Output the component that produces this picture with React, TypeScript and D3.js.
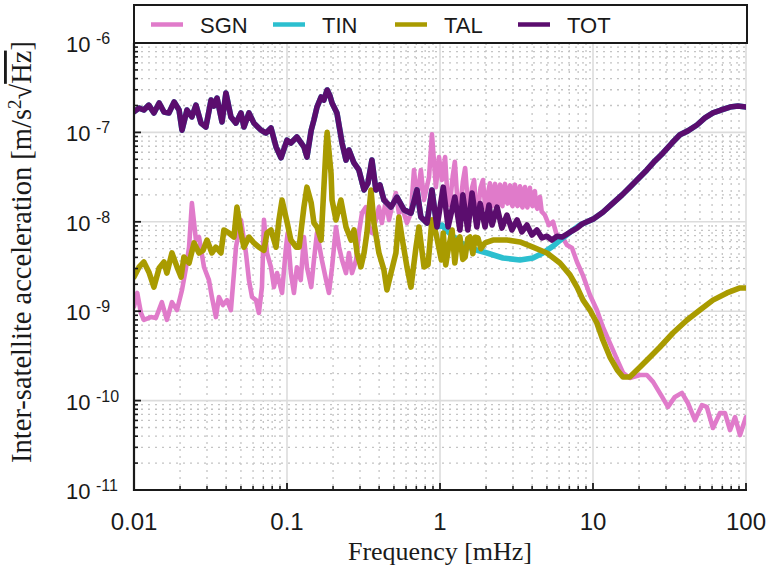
import React from 'react';
import * as d3 from 'd3';

type Pt = [number, number]; // [frequency in mHz, acceleration ASD in m/s^2/sqrt(Hz)]

const X_TICKS = [0.01, 0.1, 1, 10, 100];
const X_TICK_LABELS = ['0.01', '0.1', '1', '10', '100'];
const Y_DECADES = [-6, -7, -8, -9, -10, -11];
const SERIES_NAMES = ['SGN', 'TIN', 'TAL', 'TOT'];
const SERIES_COLORS = ['#e07bca', '#2cbfcf', '#a99b00', '#5b0d6e'];

// Low-frequency part shared by TIN and TOT (TIN dominates the total here)
const LOW_BAND: Pt[] = [
  [0.01, 1.7e-7], [0.0108, 1.87e-7], [0.0116, 1.78e-7], [0.0125, 2.02e-7], [0.0135, 1.65e-7],
  [0.0146, 2.13e-7], [0.0157, 1.69e-7], [0.0169, 1.65e-7], [0.0183, 2.19e-7], [0.0197, 1.78e-7],
  [0.0206, 1.06e-7], [0.0222, 1.78e-7], [0.0239, 1.49e-7], [0.0254, 2.02e-7], [0.0274, 1.27e-7],
  [0.0295, 1.15e-7], [0.0319, 2.3e-7], [0.0333, 1.97e-7], [0.0349, 2.42e-7], [0.0376, 1.31e-7],
  [0.0399, 2.76e-7], [0.043, 1.49e-7], [0.0464, 1.27e-7], [0.05, 1.65e-7], [0.0523, 1.15e-7],
  [0.0564, 1.65e-7], [0.0608, 1.27e-7], [0.0676, 1.06e-7], [0.0729, 9.85e-8], [0.0786, 1.12e-7],
  [0.0848, 6.9e-8], [0.0914, 5.2e-8], [0.1, 8.2e-8], [0.106, 7.6e-8], [0.116, 8.9e-8],
  [0.129, 6.9e-8], [0.135, 5.3e-8], [0.144, 1.06e-7], [0.15, 1.38e-7], [0.157, 1.92e-7],
  [0.167, 2.49e-7], [0.174, 2.3e-7], [0.183, 2.98e-7], [0.191, 2.55e-7], [0.197, 2.13e-7],
  [0.212, 1.65e-7], [0.229, 7.6e-8], [0.243, 4.9e-8], [0.254, 6.35e-8], [0.274, 4.55e-8],
  [0.295, 3.8e-8], [0.319, 2.27e-8], [0.338, 2.7e-8], [0.359, 4.9e-8], [0.381, 2.27e-8],
  [0.405, 2.58e-8], [0.43, 1.75e-8], [0.478, 1.46e-8], [0.523, 1.89e-8], [0.582, 1.36e-8],
  [0.646, 1.25e-8], [0.707, 2.27e-8], [0.75, 1.13e-8], [0.822, 9.7e-9], [0.886, 2.27e-8],
  [0.955, 8.75e-9],
];

const TOT_MID: Pt[] = [
  [1.05, 2.44e-8], [1.13, 8.75e-9], [1.25, 1.89e-8], [1.35, 8.1e-9], [1.41, 2.0e-8],
  [1.52, 8.1e-9], [1.62, 2.1e-8], [1.74, 8.75e-9], [1.83, 1.6e-8], [1.97, 8.75e-9],
  [2.09, 1.54e-8], [2.19, 9.2e-9], [2.36, 1.46e-8], [2.54, 8.5e-9], [2.74, 1.19e-8],
  [2.95, 8.1e-9], [3.19, 1.05e-8], [3.43, 7.7e-9], [3.7, 9.2e-9], [3.99, 7.1e-9],
  [4.3, 8.1e-9], [4.64, 6.6e-9], [5.0, 6.9e-9], [5.39, 6.25e-9], [5.82, 6.9e-9],
  [6.27, 6.75e-9], [6.76, 7.3e-9], [7.29, 7.9e-9], [7.86, 8.5e-9], [8.48, 9.45e-9],
  [9.14, 1.0e-8],
];

const TIN_MID: Pt[] = [
  [1.03, 9.2e-9], [1.13, 7.7e-9], [1.25, 6.6e-9], [1.41, 5.65e-9], [1.64, 4.97e-9],
  [2.03, 4.48e-9], [2.58, 3.94e-9], [3.33, 3.74e-9], [4.05, 3.94e-9], [4.71, 4.48e-9],
  [5.48, 5.35e-9], [6.37, 6.6e-9], [7.4, 8.1e-9], [8.22, 9.2e-9],
];

// High-frequency rise shared by TIN and TOT
const HIGH_BAND: Pt[] = [
  [10, 1.07e-8], [11.6, 1.28e-8], [13.5, 1.62e-8], [15.5, 2.0e-8], [17.4, 2.44e-8],
  [22.5, 3.8e-8], [25.4, 4.8e-8], [28.7, 5.9e-8], [32.8, 7.6e-8], [37, 9.4e-8],
  [41.7, 1.04e-7], [47.8, 1.21e-7], [53.9, 1.45e-7], [60.8, 1.65e-7], [68.6, 1.78e-7],
  [78.6, 1.92e-7], [88.6, 1.97e-7], [100, 1.92e-7],
];

const SGN: Pt[] = [
  [0.01, 1.12e-9], [0.0105, 1.6e-9], [0.0111, 9.55e-10], [0.0116, 8.0e-10], [0.0129, 8.6e-10],
  [0.0139, 8.4e-10], [0.0152, 1.26e-9], [0.0164, 8.0e-10], [0.0177, 1.26e-9], [0.0191, 1.03e-9],
  [0.0206, 1.73e-9], [0.0219, 3.1e-9], [0.0229, 5.2e-9], [0.0239, 1.62e-8], [0.0254, 6.25e-9],
  [0.0266, 6.75e-9], [0.0287, 3.1e-9], [0.0309, 2.23e-9], [0.0323, 1.44e-9], [0.0343, 8.6e-10],
  [0.0359, 1.44e-9], [0.0381, 1.17e-9], [0.0405, 1.33e-9], [0.043, 1.03e-9], [0.045, 2.67e-9],
  [0.0464, 5.2e-9], [0.05, 1.05e-8], [0.0539, 4.48e-9], [0.0564, 2.23e-9], [0.0591, 1.44e-9],
  [0.0627, 1.33e-9], [0.0655, 9.55e-10], [0.0686, 1.86e-9], [0.0707, 1.05e-8], [0.074, 4.48e-9],
  [0.0786, 3.1e-9], [0.0822, 1.86e-9], [0.0861, 2.67e-9], [0.0928, 1.6e-9], [0.0985, 5.2e-9],
  [0.101, 7.5e-9], [0.106, 2.67e-9], [0.111, 1.6e-9], [0.116, 3.1e-9], [0.123, 2.23e-9],
  [0.129, 6.75e-9], [0.135, 3.1e-9], [0.144, 1.86e-9], [0.15, 3.74e-9], [0.157, 7.5e-9],
  [0.169, 3.74e-9], [0.18, 2.23e-9], [0.188, 1.6e-9], [0.197, 3.1e-9], [0.209, 8.75e-9],
  [0.219, 5.2e-9], [0.229, 3.74e-9], [0.243, 2.67e-9], [0.254, 4.48e-9], [0.266, 2.67e-9],
  [0.283, 3.74e-9], [0.295, 7.5e-9], [0.309, 1.25e-8], [0.328, 1.46e-8], [0.343, 8.75e-9],
  [0.359, 7.5e-9], [0.381, 1.05e-8], [0.399, 1.46e-8], [0.417, 9.7e-9], [0.443, 1.75e-8],
  [0.464, 1.05e-8], [0.485, 1.46e-8], [0.515, 2.1e-8], [0.539, 1.25e-8], [0.564, 1.46e-8],
  [0.608, 9.7e-9], [0.646, 1.25e-8], [0.676, 3.8e-8], [0.707, 1.75e-8], [0.75, 3.8e-8],
  [0.786, 1.75e-8], [0.848, 3.17e-8], [0.886, 9.5e-8], [0.94, 2.44e-8], [0.985, 5.3e-8],
  [1.03, 2.93e-8], [1.08, 5.3e-8], [1.12, 1.8e-8], [1.16, 1.54e-8], [1.21, 3.2e-8],
  [1.25, 4.7e-8], [1.3, 1.7e-8], [1.35, 1.36e-8], [1.41, 2.8e-8], [1.46, 4.0e-8],
  [1.52, 1.6e-8], [1.57, 1.36e-8], [1.62, 2.4e-8], [1.67, 2.93e-8], [1.72, 1.5e-8],
  [1.77, 1.28e-8], [1.84, 2.4e-8], [1.91, 2.93e-8], [1.97, 1.5e-8], [2.03, 1.36e-8],
  [2.08, 2.3e-8], [2.12, 2.7e-8], [2.16, 1.6e-8], [2.2, 1.5e-8], [2.25, 2.4e-8],
  [2.29, 2.65e-8], [2.34, 1.6e-8], [2.38, 1.55e-8], [2.42, 2.3e-8], [2.47, 2.6e-8],
  [2.52, 1.6e-8], [2.56, 1.5e-8], [2.61, 2.3e-8], [2.66, 2.65e-8], [2.71, 1.7e-8],
  [2.76, 1.6e-8], [2.82, 2.3e-8], [2.87, 2.55e-8], [2.93, 1.6e-8], [2.98, 1.5e-8],
  [3.04, 2.3e-8], [3.09, 2.6e-8], [3.15, 1.6e-8], [3.21, 1.5e-8], [3.27, 2.2e-8],
  [3.33, 2.5e-8], [3.4, 1.55e-8], [3.46, 1.45e-8], [3.52, 2.2e-8], [3.59, 2.45e-8],
  [3.66, 1.55e-8], [3.73, 1.45e-8], [3.8, 2.1e-8], [3.87, 2.4e-8], [3.95, 1.6e-8],
  [4.02, 1.5e-8], [4.1, 2.0e-8], [4.17, 2.2e-8], [4.25, 1.5e-8], [4.33, 1.4e-8],
  [4.42, 1.75e-8], [4.5, 1.9e-8], [4.62, 1.3e-8], [4.85, 1.19e-8], [5.15, 9.2e-9],
  [5.48, 1.0e-8], [5.82, 6.9e-9], [6.27, 6.9e-9], [6.76, 5.5e-9], [7.29, 5.1e-9],
  [7.86, 3.55e-9], [8.61, 2.5e-9], [9.55, 1.52e-9], [10.6, 1.03e-9], [11.6, 6.65e-10],
  [12.9, 4.4e-10], [14.4, 2.85e-10], [15.7, 2.05e-10], [17.4, 1.79e-10], [20.3, 1.93e-10],
  [22.5, 1.93e-10], [24.7, 1.62e-10], [28.3, 1.1e-10], [30.9, 8.5e-11], [34.3, 1.1e-10],
  [38.1, 1.22e-10], [41.7, 9.4e-11], [46.4, 6.06e-11], [51.5, 8.9e-11], [55.4, 8.5e-11],
  [60.8, 4.94e-11], [67.6, 7.26e-11], [72.9, 7.26e-11], [78.6, 4.68e-11], [84.8, 6.55e-11],
  [91.4, 4.12e-11], [100, 6.55e-11],
];

const TAL: Pt[] = [
  [0.01, 2.41e-9], [0.0108, 3.13e-9], [0.0116, 3.55e-9], [0.0125, 2.75e-9], [0.0135, 1.86e-9],
  [0.0146, 3.05e-9], [0.0157, 3.55e-9], [0.0164, 2.67e-9], [0.0177, 4.48e-9], [0.0191, 3.13e-9],
  [0.0203, 2.41e-9], [0.0212, 4.04e-9], [0.0229, 3.46e-9], [0.0247, 5.8e-9], [0.0266, 4.48e-9],
  [0.0283, 4.8e-9], [0.03, 6.25e-9], [0.0323, 4.48e-9], [0.0343, 5.2e-9], [0.037, 4.48e-9],
  [0.0387, 8.1e-9], [0.0417, 7.5e-9], [0.045, 6.75e-9], [0.0471, 1.46e-8], [0.05, 7.5e-9],
  [0.0523, 5.2e-9], [0.0564, 6.75e-9], [0.0608, 5.8e-9], [0.0655, 5.2e-9], [0.0707, 4.8e-9],
  [0.074, 7.5e-9], [0.0786, 8.1e-9], [0.0848, 5.2e-9], [0.0886, 1.05e-8], [0.0928, 1.75e-8],
  [0.1, 1.0e-8], [0.106, 6.25e-9], [0.115, 5.2e-9], [0.12, 5.2e-9], [0.129, 1.46e-8],
  [0.135, 2.44e-8], [0.144, 1.62e-8], [0.15, 9.7e-9], [0.157, 8.75e-9], [0.167, 6.25e-9],
  [0.18, 6.9e-8], [0.183, 1.0e-7], [0.194, 3.5e-8], [0.197, 1.75e-8], [0.209, 1.05e-8],
  [0.225, 1.75e-8], [0.243, 8.75e-9], [0.262, 6.25e-9], [0.274, 8.1e-9], [0.287, 4.48e-9],
  [0.304, 3.13e-9], [0.319, 4.48e-9], [0.333, 7.5e-9], [0.354, 2.27e-8], [0.37, 9.7e-9],
  [0.399, 4.48e-9], [0.43, 2.9e-9], [0.45, 1.73e-9], [0.478, 2.67e-9], [0.515, 4.48e-9],
  [0.539, 1.13e-8], [0.564, 6.75e-9], [0.608, 3.13e-9], [0.646, 1.86e-9], [0.697, 5.2e-9],
  [0.729, 8.75e-9], [0.786, 3.13e-9], [0.835, 3.3e-9], [0.886, 1.05e-8], [0.94, 7.5e-9],
  [1.02, 3.74e-9], [1.05, 7.5e-9], [1.09, 3.3e-9], [1.13, 4.8e-9], [1.2, 8.1e-9],
  [1.25, 3.46e-9], [1.3, 6.2e-9], [1.35, 6.75e-9], [1.41, 3.8e-9], [1.46, 4.04e-9],
  [1.52, 6.5e-9], [1.57, 6.75e-9], [1.64, 4.4e-9], [1.7, 6.7e-9], [1.77, 6.6e-9],
  [1.85, 5.0e-9], [1.97, 5.8e-9], [2.22, 6.25e-9], [2.74, 6.25e-9], [3.33, 5.95e-9],
  [4.05, 5.2e-9], [5.0, 4.48e-9], [6.08, 3.46e-9], [7.07, 2.55e-9], [7.86, 1.86e-9],
  [8.61, 1.33e-9], [9.55, 1.03e-9], [10.6, 7.37e-10], [11.6, 4.77e-10], [12.9, 3.07e-10],
  [14.4, 2.2e-10], [15.7, 1.84e-10], [17.4, 1.84e-10], [20.3, 2.37e-10], [23.6, 3.07e-10],
  [27.4, 3.98e-10], [33.3, 5.7e-10], [41.2, 7.97e-10], [50, 1.03e-9], [60.8, 1.33e-9],
  [75.1, 1.6e-9], [91.4, 1.82e-9], [100, 1.82e-9],
];

const TIN: Pt[] = [...LOW_BAND, ...TIN_MID, ...HIGH_BAND];
const TOT: Pt[] = [...LOW_BAND, ...TOT_MID, ...HIGH_BAND];
const SERIES_DATA: Pt[][] = [SGN, TIN, TAL, TOT];

const W = 767;
const H = 572;
const PLOT = { left: 134, right: 746, top: 43, bottom: 490 };
const SANS = '"Liberation Sans", Arimo, Arial, Helvetica, sans-serif';
const SERIF = '"Liberation Serif", "DejaVu Serif", serif';

export default function App() {
  const x = d3.scaleLog().domain([0.01, 100]).range([PLOT.left, PLOT.right]);
  const y = d3.scaleLog().domain([1e-11, 1e-6]).range([PLOT.bottom, PLOT.top]);
  const line = d3.line<Pt>().x((d) => x(d[0])).y((d) => y(d[1]));

  const minorX: number[] = [];
  for (let e = -2; e <= 1; e++) for (let k = 2; k <= 9; k++) minorX.push(k * Math.pow(10, e));
  const minorY: number[] = [];
  for (let e = -11; e <= -7; e++) for (let k = 2; k <= 9; k++) minorY.push(k * Math.pow(10, e));

  const legendX = [151, 273, 395, 518];

  return (
    <svg
      width={W}
      height={H}
      viewBox={`0 0 ${W} ${H}`}
      style={{ position: 'absolute', left: 0, top: 0, background: '#fff' }}
    >
      <defs>
        <clipPath id="plot-clip">
          <rect x={PLOT.left} y={PLOT.top} width={PLOT.right - PLOT.left} height={PLOT.bottom - PLOT.top} />
        </clipPath>
      </defs>
      <rect x={0} y={0} width={W} height={H} fill="#fff" />

      {/* minor grid */}
      <g stroke="#c4c4c4" strokeWidth={1.3} strokeDasharray="2 5">
        {minorX.map((v) => (
          <line key={`mx${v}`} x1={x(v)} x2={x(v)} y1={PLOT.top} y2={PLOT.bottom} />
        ))}
        {minorY.map((v) => (
          <line key={`my${v}`} x1={PLOT.left} x2={PLOT.right} y1={y(v)} y2={y(v)} />
        ))}
      </g>
      {/* major grid */}
      <g stroke="#dcdcdc" strokeWidth={1.6}>
        {X_TICKS.map((v) => (
          <line key={`gx${v}`} x1={x(v)} x2={x(v)} y1={PLOT.top} y2={PLOT.bottom} />
        ))}
        {Y_DECADES.map((e) => (
          <line key={`gy${e}`} x1={PLOT.left} x2={PLOT.right} y1={y(Math.pow(10, e))} y2={y(Math.pow(10, e))} />
        ))}
      </g>

      {/* series */}
      <g clipPath="url(#plot-clip)" fill="none" strokeLinejoin="round" strokeLinecap="round">
        {SERIES_DATA.map((data, i) => (
          <path
            key={SERIES_NAMES[i]}
            d={line(data) || ''}
            stroke={SERIES_COLORS[i]}
            strokeWidth={SERIES_NAMES[i] === 'SGN' ? 4.6 : 5.6}
          />
        ))}
      </g>

      {/* axes */}
      <g stroke="#1a1a1a">
        <line x1={PLOT.left} x2={PLOT.left} y1={PLOT.top} y2={PLOT.bottom + 1} strokeWidth={2.2} />
        <line x1={PLOT.left - 1} x2={PLOT.right + 1} y1={PLOT.bottom} y2={PLOT.bottom} strokeWidth={2.2} />
        {minorX.map((v) => (
          <line key={`tx${v}`} x1={x(v)} x2={x(v)} y1={PLOT.bottom} y2={PLOT.bottom - 4} strokeWidth={1.6} />
        ))}
        {X_TICKS.map((v) => (
          <line key={`Tx${v}`} x1={x(v)} x2={x(v)} y1={PLOT.bottom} y2={PLOT.bottom - 7} strokeWidth={1.8} />
        ))}
        {minorY.map((v) => (
          <line key={`ty${v}`} x1={PLOT.left} x2={PLOT.left + 4} y1={y(v)} y2={y(v)} strokeWidth={1.6} />
        ))}
        {Y_DECADES.map((e) => (
          <line key={`Ty${e}`} x1={PLOT.left} x2={PLOT.left + 7} y1={y(Math.pow(10, e))} y2={y(Math.pow(10, e))} strokeWidth={1.8} />
        ))}
      </g>

      {/* tick labels */}
      <g fontFamily={SANS} fill="#1a1a1a">
        {X_TICKS.map((v, i) => (
          <text key={`lx${v}`} x={x(v)} y={530} fontSize={24} textAnchor="middle">
            {X_TICK_LABELS[i]}
          </text>
        ))}
        {Y_DECADES.map((e) => {
          const yy = y(Math.pow(10, e));
          return (
            <text key={`ly${e}`} x={66} y={yy + 9} fontSize={22}>
              10
              <tspan x={96} dy={-8} fontSize={16}>
                {String(e)}
              </tspan>
            </text>
          );
        })}
      </g>

      {/* axis titles */}
      <text x={440} y={560} fontFamily={SERIF} fontSize={26} textAnchor="middle" fill="#1a1a1a">
        Frequency [mHz]
      </text>
      <text
        transform="translate(31,252) rotate(-90)"
        fontFamily={SERIF}
        fontSize={28.5}
        textAnchor="middle"
        fill="#1a1a1a"
      >
        Inter-satellite acceleration [m/s
        <tspan dy={-10} fontSize={19}>2</tspan>
        <tspan dy={10}>√</tspan>
        <tspan style={{ textDecoration: 'overline' }}>Hz</tspan>]
      </text>

      {/* legend */}
      <rect x={134} y={5} width={613} height={38} fill="#fff" stroke="#1a1a1a" strokeWidth={2} />
      {SERIES_NAMES.map((name, i) => (
        <g key={`lg${name}`}>
          <line x1={legendX[i]} x2={legendX[i] + 32} y1={24.5} y2={24.5} stroke={SERIES_COLORS[i]} strokeWidth={4.5} />
          <text x={legendX[i] + 49} y={33} fontFamily={SANS} fontSize={22} fill="#1a1a1a">
            {name}
          </text>
        </g>
      ))}
    </svg>
  );
}
